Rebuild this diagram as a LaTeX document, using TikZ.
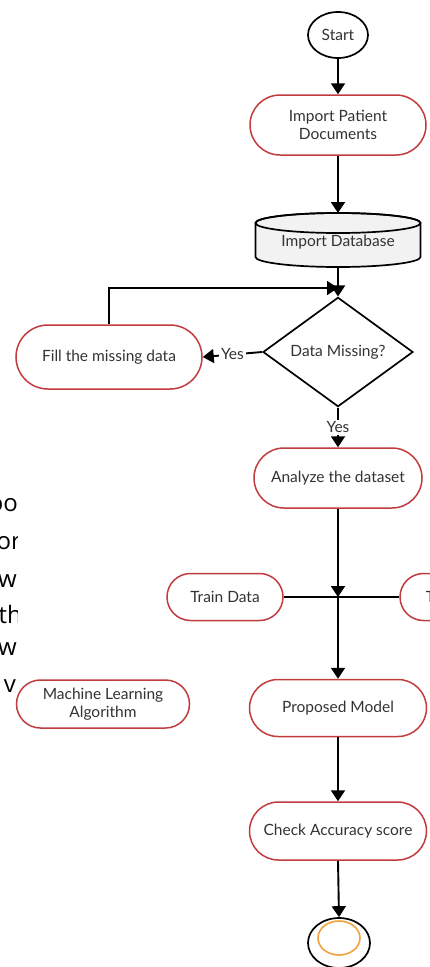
\documentclass[tikz,border=0pt]{standalone}
\usepackage{fontspec}
\setmainfont{Lato}
\newfontfamily\strayfont{Open Sans}
\usetikzlibrary{shapes.misc,shapes.geometric,arrows.meta}
\definecolor{boxred}{HTML}{C23B3F}
\definecolor{txt}{HTML}{333333}
\definecolor{dbfill}{HTML}{F2F2F2}
\definecolor{endorange}{HTML}{F0A33A}
\begin{document}
\begin{tikzpicture}[x=1pt,y=-1pt,
  term/.style={rounded rectangle, draw=boxred, line width=1.5pt, fill=white, text=txt,
    font=\fontsize{15.5}{18}\selectfont, align=center, inner sep=0pt},
  flow/.style={line width=1.9pt, -{Triangle[width=14pt,length=11pt]}},
  plain/.style={line width=1.7pt},
  lbl/.style={fill=white, text=txt, font=\fontsize{15.5}{17}\selectfont, inner sep=2pt},
  stray/.style={anchor=base east, inner sep=0pt, font=\strayfont\fontsize{24}{24}\selectfont, text=black}]
\useasboundingbox (0,0) rectangle (430,967);
\fill[white] (0,0) rectangle (430,967);
% cropped text fragments at the left edge
\begin{scope}
  \clip (0,470) rectangle (17,705);
  \node[stray] (s1) at (18,511) {oo};
  \node[stray] (s2) at (21,549) {or};
  \node[stray] (s3) at (17,587) {w};
  \node[stray] (s4) at (22,623) {th};
  \node[stray] (s5) at (17,655) {w};
  \node[stray] (s6) at (16,692) {v};
\end{scope}
% start
\node[ellipse, draw=black, line width=1.7pt, minimum width=60pt, minimum height=46pt,
  text=txt, font=\fontsize{15.5}{17}\selectfont, inner sep=0pt] (start) at (338,35) {Start};
\node[term, minimum width=176pt, minimum height=60pt] (imp) at (338,125) {Import Patient\\Documents};
% database cylinder
\filldraw[fill=dbfill, draw=black, line width=1.7pt]
  (255.5,223) -- (255.5,257) arc[start angle=180, end angle=0, x radius=82.5, y radius=10]
  -- (420.5,223) arc[start angle=0, end angle=-180, x radius=82.5, y radius=10] -- cycle;
\draw[line width=1.7pt] (338,223) ellipse[x radius=82.5, y radius=10];
\coordinate (dbtop) at (338,213);
\node[minimum width=165pt, minimum height=50pt, inner sep=0pt, text=txt,
  font=\fontsize{15.5}{17}\selectfont] (db) at (338,242) {Import Database};
% decision
\node[diamond, draw=black, line width=1.7pt, minimum width=150pt, minimum height=76pt,
  inner sep=0pt, text=txt, font=\fontsize{15.5}{17}\selectfont] (dm) at (338,352) {Data Missing?};
\node[term, minimum width=186pt, minimum height=64pt] (fill) at (109,357) {Fill the missing data};
\coordinate (j1) at (338,288);
\node[term, minimum width=168pt, minimum height=60pt] (an) at (338,478) {Analyze the dataset};
\coordinate (j2) at (338,597);
\node[term, minimum width=116pt, minimum height=47pt] (train) at (225,597) {Train Data};
\node[term, minimum width=116pt, minimum height=47pt] (test) at (458,597) {Test Data};
\node[term, minimum width=177pt, minimum height=57pt] (pm) at (338,708) {Proposed Model};
\node[term, minimum width=173pt, minimum height=48pt] (ml) at (103,704) {Machine Learning\\Algorithm};
\node[term, minimum width=177pt, minimum height=58pt] (ca) at (338,831) {Check Accuracy score};
\node[ellipse, draw=black, line width=1.7pt, minimum width=62pt, minimum height=50pt, inner sep=0pt] (fin) at (339,943) {};
\node[ellipse, draw=endorange, line width=1.6pt, minimum width=42pt, minimum height=34pt, inner sep=0pt] (finin) at (339,938) {};
% connectors
\draw[flow] (start.south) -- (imp.north);
\draw[flow] (imp.south) -- (dbtop);
\draw[flow] (db.south) -- (dm.north);
\draw[flow] (fill.north) |- (j1);
\draw[flow] (dm.west) -- node[lbl] (y1) {Yes} (fill.east);
\draw[flow] (dm.south) -- node[lbl] (y2) {Yes} (an.north);
\draw[plain] (train.east) -- (test.west);
\draw[flow] (an.south) -- (j2);
\draw[flow] (j2) -- (pm.north);
\draw[flow] (pm.south) -- (ca.north);
\draw[flow] (ca.south) -- (fin.north);
\end{tikzpicture}
\end{document}
